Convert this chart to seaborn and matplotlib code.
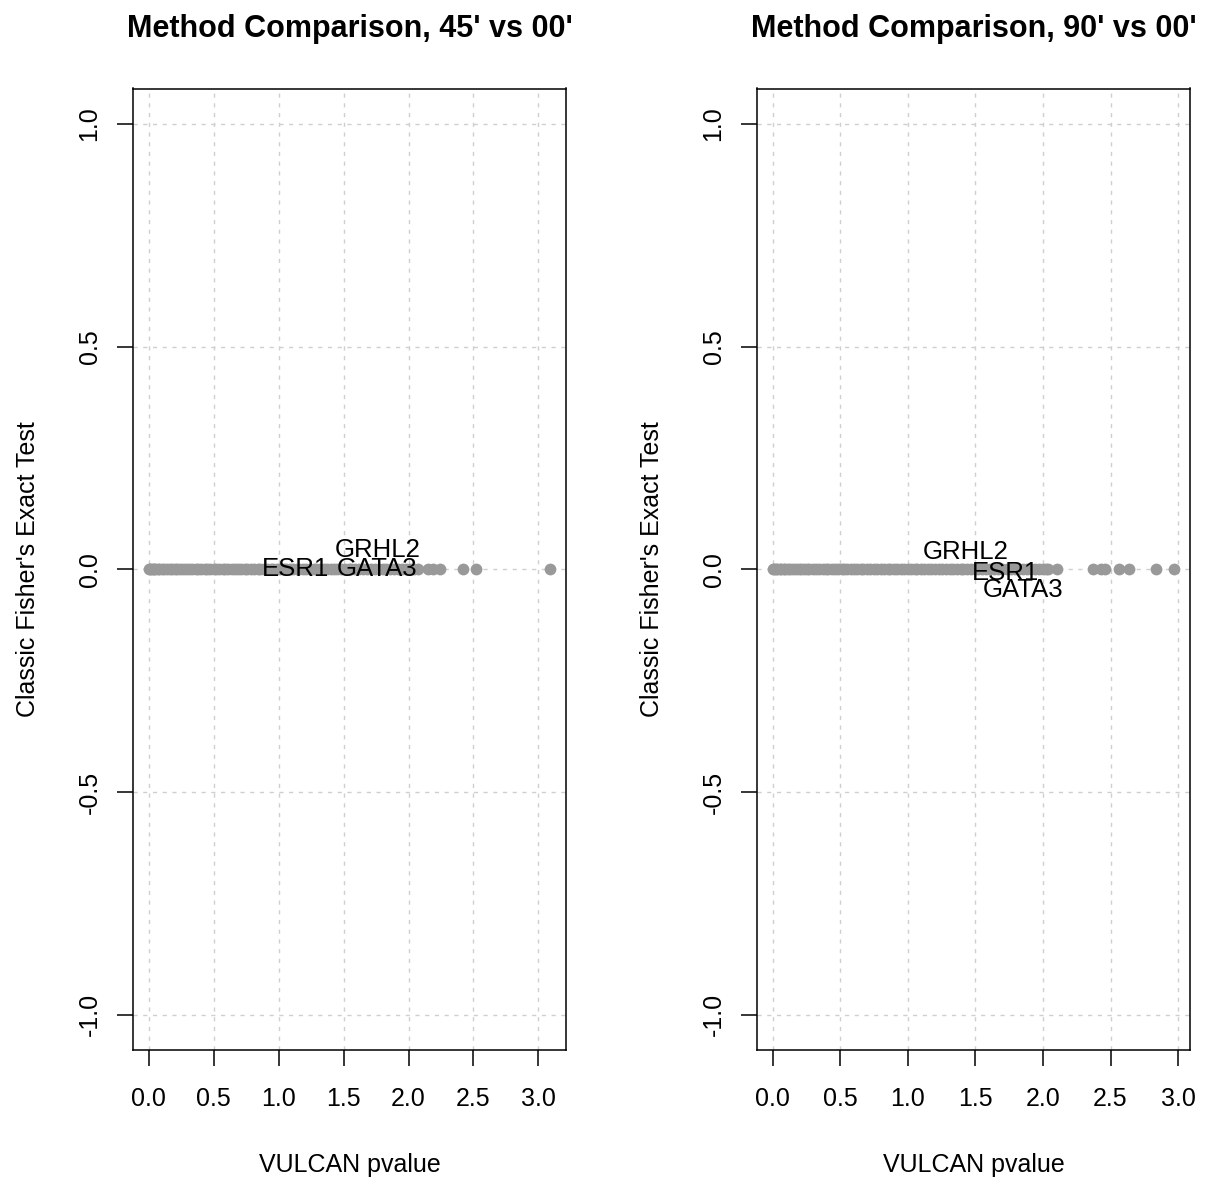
import numpy as np
import pandas as pd
import matplotlib
matplotlib.use("Agg")
import matplotlib.pyplot as plt
import seaborn as sns

sns.set_theme(style="white")
plt.rcParams['font.family'] = ['Liberation Sans', 'DejaVu Sans']
plt.rcParams['text.color'] = 'black'
plt.rcParams['axes.labelcolor'] = 'black'
plt.rcParams['xtick.color'] = 'black'
plt.rcParams['ytick.color'] = 'black'

# VULCAN p-values (x); the classic Fisher test is 0 for every peak
vulcan_45 = [0.00, 0.01, 0.02, 0.03, 0.04, 0.05, 0.07, 0.08, 0.10, 0.12, 0.14, 0.16,
             0.18, 0.20, 0.22, 0.24, 0.26, 0.29, 0.31, 0.33, 0.36, 0.38, 0.40, 0.43,
             0.45, 0.47, 0.50, 0.52, 0.54, 0.57, 0.59, 0.61, 0.64, 0.66, 0.69, 0.71,
             0.74, 0.76, 0.79, 0.81, 0.84, 0.86, 0.89, 0.91, 0.94, 0.96, 0.99, 1.01,
             1.04, 1.06, 1.09, 1.11, 1.14, 1.16, 1.19, 1.21, 1.24, 1.27, 1.29, 1.32,
             1.35, 1.37, 1.40, 1.43, 1.45, 1.48, 1.51, 1.54, 1.56, 1.59, 1.62, 1.65,
             1.68, 1.71, 1.74, 1.77, 1.80, 1.83, 1.86, 1.89, 1.92, 1.95, 1.98, 2.01,
             2.04, 2.07, 2.15, 2.19, 2.24, 2.42, 2.52, 3.09]
vulcan_90 = [0.00, 0.01, 0.02, 0.03, 0.05, 0.06, 0.08, 0.09, 0.11, 0.13, 0.15, 0.17,
             0.19, 0.21, 0.23, 0.25, 0.27, 0.30, 0.32, 0.34, 0.37, 0.39, 0.41, 0.44,
             0.46, 0.48, 0.51, 0.53, 0.55, 0.58, 0.60, 0.62, 0.65, 0.67, 0.70, 0.72,
             0.75, 0.77, 0.80, 0.82, 0.85, 0.87, 0.90, 0.92, 0.95, 0.97, 1.00, 1.02,
             1.05, 1.07, 1.10, 1.12, 1.15, 1.17, 1.20, 1.23, 1.25, 1.28, 1.31, 1.33,
             1.36, 1.39, 1.41, 1.44, 1.47, 1.50, 1.52, 1.55, 1.58, 1.61, 1.64, 1.67,
             1.70, 1.73, 1.76, 1.79, 1.82, 1.85, 1.88, 1.91, 1.94, 1.97, 2.00, 2.02,
             2.04, 2.10, 2.37, 2.43, 2.46, 2.56, 2.64, 2.84, 2.97]
fisher_45 = [0.0] * len(vulcan_45)
fisher_90 = [0.0] * len(vulcan_90)

genes = ["GRHL2", "ESR1", "GATA3"]
gene_x_45 = [1.76, 1.13, 1.76]
gene_y_45 = [0.043, 0.0, 0.0]
gene_x_90 = [1.43, 1.72, 1.85]
gene_y_90 = [0.040, -0.009, -0.047]

titles = ["Method Comparison, 45' vs 00'", "Method Comparison, 90' vs 00'"]

fig = plt.figure(figsize=(12.07, 11.8), dpi=100)
panels = [
    (0.110, vulcan_45, fisher_45, gene_x_45, gene_y_45),
    (0.627, vulcan_90, fisher_90, gene_x_90, gene_y_90),
]

for i, (left, xs, ys, gx, gy) in enumerate(panels):
    ax = fig.add_axes([left, 0.110, 0.359, 0.815])
    df = pd.DataFrame({"vulcan": xs, "fisher": ys})
    rng = max(xs) - min(xs)
    ax.set_xlim(min(xs) - 0.04 * rng, max(xs) + 0.04 * rng)
    ax.set_ylim(-1.08, 1.08)
    ax.set_xticks([0, 0.5, 1, 1.5, 2, 2.5, 3])
    ax.set_xticklabels(["0.0", "0.5", "1.0", "1.5", "2.0", "2.5", "3.0"])
    ax.set_yticks([-1, -0.5, 0, 0.5, 1])
    ax.set_yticklabels(["-1.0", "-0.5", "0.0", "0.5", "1.0"], rotation=90, va="center")
    ax.grid(True, color="#cfcfcf", linestyle=(0, (3, 4)), linewidth=1)
    ax.set_axisbelow(True)
    sns.scatterplot(data=df, x="vulcan", y="fisher", ax=ax, color="#999999",
                    s=72, linewidth=0, alpha=1, zorder=3)
    for g, x, y in zip(genes, gx, gy):
        ax.text(x, y, g, ha="center", va="center", fontsize=18.5, color="black", zorder=4)
    for sp in ax.spines.values():
        sp.set_color("black")
        sp.set_linewidth(1.1)
    ax.tick_params(axis="x", direction="out", length=11.5, width=1.1,
                   labelsize=18, pad=15, bottom=True)
    ax.tick_params(axis="y", direction="out", length=11.5, width=1.1,
                   labelsize=18, pad=11, left=True)
    ax.set_xlabel("VULCAN pvalue", fontsize=18, labelpad=30)
    ax.set_ylabel("Classic Fisher's Exact Test", fontsize=18, labelpad=27)
    ax.set_title(titles[i], fontsize=22, fontweight="bold", pad=37)

fig.savefig("out.png", dpi=100)
